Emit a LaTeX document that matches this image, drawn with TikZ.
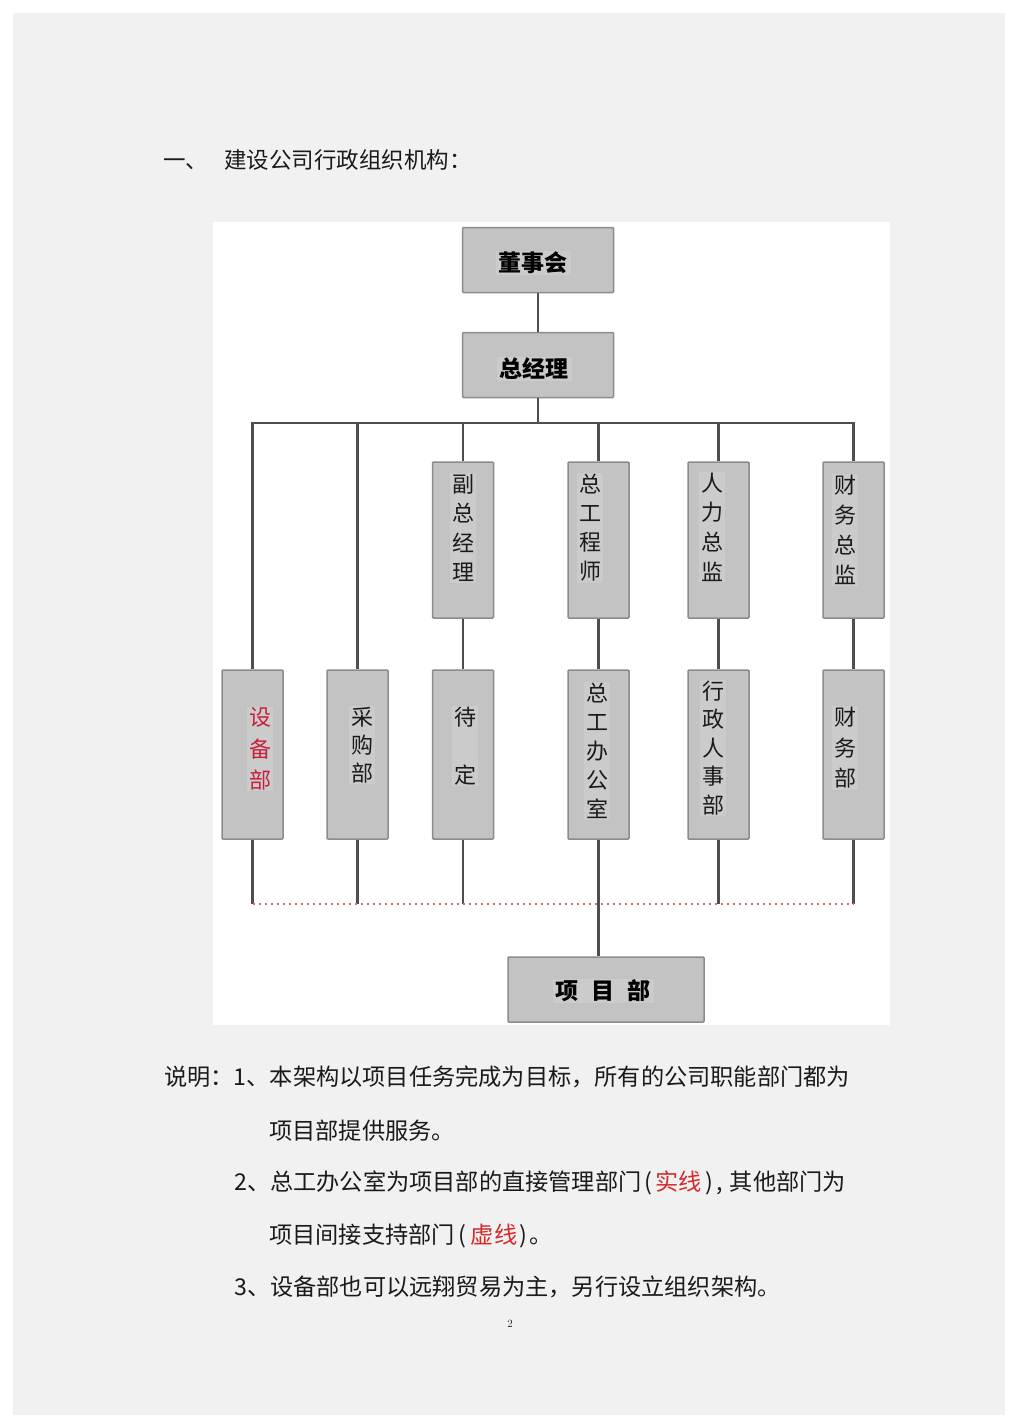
\documentclass[tikz,border=0pt]{standalone}
\usepackage{fontspec}
\newfontfamily\cjk{Noto Sans CJK SC}
\definecolor{pagegray}{HTML}{F1F1F1}
\definecolor{boxfill}{HTML}{C3C3C3}
\definecolor{boxline}{HTML}{8C8C8C}
\definecolor{txtback}{HTML}{CBCBCB}
\definecolor{conncol}{HTML}{4E4E4E}
\definecolor{redtxt}{HTML}{C8203A}
\definecolor{notered}{HTML}{D42A2A}
\definecolor{dotred}{HTML}{D07070}
\definecolor{inkcol}{HTML}{1A1A1A}
\tikzset{
  orgbox/.style={draw=boxline, fill=boxfill, line width=1.5pt, inner sep=0pt, rounded corners=1pt},
  topbox/.style={orgbox, minimum width=151pt, minimum height=65pt},
  tallbox/.style={orgbox, minimum width=61pt, minimum height=156pt},
  lowbox/.style={orgbox, minimum width=61pt, minimum height=169pt},
  vtext/.style={inner xsep=2pt, inner ysep=1pt, fill=txtback, align=center, text=inkcol, font=\cjk\fontsize{22}{29.5}\selectfont},
  btext/.style={inner xsep=3pt, inner ysep=1pt, fill=txtback, text=black, font=\cjk\bfseries\fontsize{23}{28}\selectfont},
  conn/.style={draw=conncol, line width=2.1pt},
  dotline/.style={draw=dotred, line width=1.8pt, dash pattern=on 2.5pt off 3.5pt},
  bodytxt/.style={anchor=west, inner sep=0pt, text=inkcol, font=\cjk\fontsize{23.2}{28}\selectfont},
}
\begin{document}
\begin{tikzpicture}[x=1pt, y=-1pt]
\useasboundingbox (0,0) rectangle (1018,1428);
\fill[white] (0,0) rectangle (1018,1428);
\fill[pagegray] (13,13) rectangle (1005,1415);
\fill[white] (213,222) rectangle (890,1025);

% title
\node[anchor=west, inner sep=0pt, text=inkcol, font=\cjk\fontsize{22.5}{26}\selectfont] (title) at (163,160) {一、\hspace{16pt}建设公司行政组织机构：};

% top boxes
\node[topbox] (dsh) at (538,260) {};
\node[btext] (dshT) at (533,263) {董事会};
\node[topbox] (zjl) at (538,365) {};
\node[btext] (zjlT) at (534,369) {总经理};

% second row
\node[tallbox] (fzjl) at (463,540) {};
\node[tallbox] (zgcs) at (598.5,540) {};
\node[tallbox] (rlzj) at (718.5,540) {};
\node[tallbox] (cwzj) at (853.5,540) {};

% third row
\node[lowbox] (sbb) at (252.5,754.5) {};
\node[lowbox] (cgb) at (357.5,754.5) {};
\node[lowbox] (dd) at (463,754.5) {};
\node[lowbox] (zgbgs) at (598.5,754.5) {};
\node[lowbox] (xzrsb) at (718.5,754.5) {};
\node[lowbox] (cwb) at (853.5,754.5) {};

% project dept
\node[orgbox, minimum width=196pt, minimum height=65pt] (xmb) at (606,989.5) {};
\node[btext] (xmbT) at (603,991) {项\hspace{13pt}目\hspace{13pt}部};

% texts in boxes
\node[vtext] (fzjlT) at (463,528) {副\\总\\经\\理};
\node[vtext, font=\cjk\fontsize{22}{29}\selectfont] (zgcsT) at (590,528) {总\\工\\程\\师};
\node[vtext, font=\cjk\fontsize{22}{29.6}\selectfont] (rlzjT) at (712,527) {人\\力\\总\\监};
\node[vtext, font=\cjk\fontsize{22}{30}\selectfont] (cwzjT) at (845,530) {财\\务\\总\\监};
\node[vtext, text=redtxt, font=\cjk\fontsize{22}{31.5}\selectfont] (sbbT) at (260,749) {设\\备\\部};
\node[vtext, font=\cjk\fontsize{22}{28}\selectfont] (cgbT) at (362,745) {采\\购\\部};
\node[vtext, font=\cjk\fontsize{22}{58}\selectfont] (ddT) at (465,746) {待\\定};
\node[vtext, font=\cjk\fontsize{22}{29}\selectfont] (zgbgsT) at (597,751) {总\\工\\办\\公\\室};
\node[vtext, font=\cjk\fontsize{22}{28.5}\selectfont] (xzrsbT) at (713,748) {行\\政\\人\\事\\部};
\node[vtext, font=\cjk\fontsize{22}{30.5}\selectfont] (cwbT) at (845,748) {财\\务\\部};

% connectors
\coordinate (barL) at (252.5,423);
\coordinate (barR) at (853.5,423);
\coordinate (dotL) at (252.5,904);
\coordinate (dotR) at (853.5,904);

\draw[conn] (dsh.south) -- (zjl.north);
\draw[conn] (zjl.south) -- (zjl.south |- barL);
\draw[conn, line cap=rect] (barL) -- (barR);
\draw[conn] (sbb.north) -- (sbb.north |- barL);
\draw[conn] (cgb.north) -- (cgb.north |- barL);
\draw[conn] (fzjl.north) -- (fzjl.north |- barL);
\draw[conn] (zgcs.north) -- (zgcs.north |- barL);
\draw[conn] (rlzj.north) -- (rlzj.north |- barL);
\draw[conn] (cwzj.north) -- (cwzj.north |- barL);

\draw[conn] (fzjl.south) -- (dd.north);
\draw[conn] (zgcs.south) -- (zgbgs.north);
\draw[conn] (rlzj.south) -- (xzrsb.north);
\draw[conn] (cwzj.south) -- (cwb.north);

\draw[conn] (sbb.south) -- (dotL);
\draw[conn] (cgb.south) -- (cgb.south |- dotL);
\draw[conn] (dd.south) -- (dd.south |- dotL);
\draw[conn] (xzrsb.south) -- (xzrsb.south |- dotL);
\draw[conn] (cwb.south) -- (dotR);
\draw[dotline] (dotL) -- (dotR);
\draw[conn] (zgbgs.south) -- (zgbgs.south |- xmb.north);

% notes
\node[bodytxt] (n1) at (164,1077) {说明：1、本架构以项目任务完成为目标，所有的公司职能部门都为};
\node[bodytxt] (n2) at (269,1131) {项目部提供服务。};
\node[bodytxt] (n3) at (234,1183) {2、总工办公室为项目部的直接管理部门\makebox[14pt][c]{(}\textcolor{notered}{实线}\makebox[15pt][c]{)}\makebox[13pt][l]{,}其他部门为};
\node[bodytxt] (n4) at (269,1236) {项目间接支持部门\makebox[16pt][c]{(}\textcolor{notered}{虚线}\makebox[12pt][c]{)}。};
\node[bodytxt] (n5) at (234,1287) {3、设备部也可以远翔贸易为主，另行设立组织架构。};
\node[inner sep=0pt, text=inkcol, font=\rmfamily\fontsize{11}{13}\selectfont] (pg) at (510,1324) {2};
\end{tikzpicture}
\end{document}
